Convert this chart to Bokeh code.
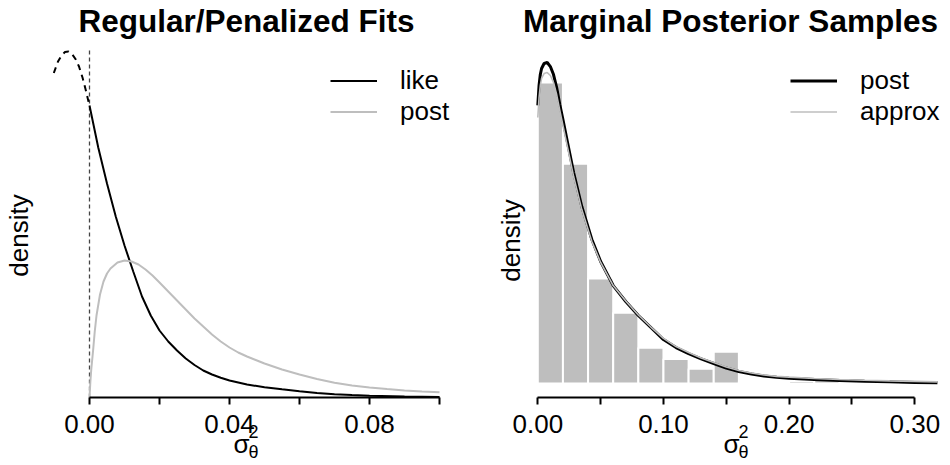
import math
from bokeh.plotting import figure
from bokeh.layouts import row
from bokeh.models import Range1d, FixedTicker, Label, Legend, LegendItem
from bokeh.embed import file_html
from bokeh.resources import INLINE

# ---------------- left panel: regular / penalized fits ----------------
# likelihood continued below zero (drawn dashed)
like_neg_x = [-0.0102, -0.009, -0.008, -0.007, -0.006, -0.005, -0.004, -0.003, -0.002, -0.001, 0.0]
like_neg_y = [64.9, 67.2, 68.4, 69.1, 69.2, 68.7, 67.7, 66.2, 64.0, 61.3, 58.3]
# likelihood on the admissible range
like_x = [0.0, 0.0025, 0.005, 0.0075, 0.010, 0.0125, 0.015, 0.0175, 0.020, 0.0225, 0.025,
          0.0275, 0.030, 0.0325, 0.035, 0.0375, 0.040, 0.045, 0.050, 0.055, 0.060, 0.065,
          0.070, 0.075, 0.080, 0.090, 0.100]
like_y = [58.4, 50.0, 42.8, 36.2, 30.4, 25.2, 20.2, 16.4, 13.4, 11.2, 9.4,
          7.8, 6.5, 5.4, 4.6, 3.96, 3.4, 2.6, 2.06, 1.64, 1.26, 0.92,
          0.66, 0.48, 0.34, 0.18, 0.10]
# penalized posterior
post_x = [0.0, 0.00025, 0.0005, 0.001, 0.0015, 0.002, 0.003, 0.004, 0.005, 0.006, 0.008, 0.010,
          0.012, 0.014, 0.016, 0.018, 0.020, 0.0225, 0.025, 0.0275, 0.030, 0.0325, 0.035,
          0.0375, 0.040, 0.0425, 0.045, 0.0475, 0.050, 0.055, 0.060, 0.065, 0.070, 0.075,
          0.080, 0.085, 0.090, 0.095, 0.100]
post_y = [0.0, 3.2, 5.6, 9.2, 13.2, 16.4, 20.6, 23.2, 24.8, 25.8, 27.0, 27.4,
          27.2, 26.6, 25.6, 24.4, 23.0, 21.2, 19.4, 17.6, 15.8, 14.2, 12.6,
          11.2, 10.0, 9.0, 8.2, 7.5, 6.8, 5.6, 4.6, 3.7, 2.96, 2.4,
          2.0, 1.68, 1.42, 1.22, 1.06]
left_ticks = [0.0, 0.02, 0.04, 0.06, 0.08, 0.10]
left_tick_labels = ["0.00", "", "0.04", "", "0.08", ""]
left_ymax = 69.4          # top of the plotting region (density units)

# ---------------- right panel: marginal posterior samples ----------------
hist_edges = [0.00, 0.02, 0.04, 0.06, 0.08, 0.10, 0.12, 0.14, 0.16, 0.18, 0.20, 0.22, 0.24]
hist_counts = [370, 270, 129, 87, 44, 30, 18, 39, 2, 2, 3, 6]
mpost_x = [0.0, 0.001, 0.002, 0.003, 0.005, 0.0075, 0.010, 0.0125, 0.015, 0.0175, 0.020, 0.0235,
           0.0285, 0.035, 0.043, 0.050, 0.060, 0.070, 0.080, 0.090, 0.100, 0.110, 0.120, 0.130,
           0.140, 0.150, 0.160, 0.170, 0.180, 0.190, 0.200, 0.220, 0.240, 0.260, 0.280, 0.300, 0.318]
mpost_y = [17.09, 18.32, 18.99, 19.36, 19.67, 19.73, 19.48, 18.99, 18.19, 17.15, 16.23, 14.87,
           12.97, 10.88, 8.85, 7.50, 6.02, 5.04, 4.18, 3.44, 2.70, 2.21, 1.84, 1.51,
           1.23, 0.95, 0.74, 0.58, 0.46, 0.38, 0.33, 0.25, 0.18, 0.135, 0.10, 0.068, 0.043]
approx_y = [16.35, 17.58, 18.32, 18.75, 19.05, 19.11, 18.93, 18.50, 17.76, 16.78, 15.86, 14.57,
            12.72, 10.69, 8.73, 7.44, 6.02, 5.07, 4.21, 3.47, 2.77, 2.27, 1.91, 1.57,
            1.29, 1.01, 0.80, 0.65, 0.52, 0.44, 0.39, 0.31, 0.25, 0.20, 0.16, 0.13, 0.10]
right_ticks = [0.0, 0.05, 0.10, 0.15, 0.20, 0.25, 0.30]
right_tick_labels = ["0.00", "", "0.10", "", "0.20", "", "0.30"]

GRAY = "#BEBEBE"
FONT = "Liberation Sans"
W, H = 475, 465


def make_fig(xr, yr, axis_y):
    """Borderless figure; the x axis is pinned at y=axis_y inside the frame."""
    p = figure(width=W, height=H, x_range=xr, y_range=yr, output_backend="svg",
               toolbar_location=None, y_axis_location=None,
               min_border=0, min_border_left=0, min_border_right=0,
               min_border_top=0, min_border_bottom=0)
    p.title.visible = False
    p.outline_line_color = None
    p.xgrid.visible = False
    p.ygrid.visible = False
    p.background_fill_color = "white"
    p.border_fill_color = "white"
    ax = p.xaxis[0]
    ax.fixed_location = axis_y
    ax.axis_line_width = 2
    ax.major_tick_line_width = 2
    ax.major_tick_out = 7
    ax.major_tick_in = 0
    ax.minor_tick_line_color = None
    ax.major_label_text_font = FONT
    ax.major_label_text_font_size = "26px"
    ax.major_label_text_color = "black"
    ax.major_label_standoff = 10
    return p


def at(p, sx, sy):
    """Figure pixel position -> data coordinates of that figure."""
    xr, yr = p.x_range, p.y_range
    x = xr.start + sx / W * (xr.end - xr.start)
    y = yr.end - sy / H * (yr.end - yr.start)
    return x, y


def text(p, sx, sy, s, size, align="left", baseline="alphabetic", bold=False, angle=0.0):
    x, y = at(p, sx, sy)
    p.add_layout(Label(x=x, y=y, text=s, text_font=FONT, text_font_size=size,
                       text_align=align, text_baseline=baseline, angle=angle,
                       text_font_style="bold" if bold else "normal", text_color="black"))


def sigma_label(p, sx):
    text(p, sx, 443, "σ", "26px")
    text(p, sx + 15, 431, "2", "18px")
    text(p, sx + 15, 451, "θ", "18px")


def legend(p, items, sx):
    lg = Legend(items=items, location=(sx, 338), orientation="vertical",
                border_line_color=None, background_fill_alpha=0, padding=0, margin=0,
                spacing=0, glyph_width=47, glyph_height=31, label_height=31,
                label_standoff=23, label_text_font=FONT, label_text_font_size="26px",
                label_text_color="black")
    p.add_layout(lg)


# ---- left figure: 0 at x=89px, 3500 px per unit; y=0 at 397px, 5 px per unit ----
p1 = make_fig(Range1d(-89 / 3500, 386 / 3500), Range1d(-68 / 5, 397 / 5), 0)
p1.xaxis[0].bounds = (0, 0.1)
p1.xaxis[0].ticker = FixedTicker(ticks=left_ticks)
p1.xaxis[0].major_label_overrides = dict(zip(left_ticks, left_tick_labels))

p1.segment(x0=[0], y0=[0], x1=[0], y1=[left_ymax], line_color="#444444",
           line_width=1.3, line_dash="4 3")
p1.line(like_neg_x, like_neg_y, line_color="black", line_width=2, line_dash="6 5")
r_like = p1.line(like_x, like_y, line_color="black", line_width=2)
r_post = p1.line(post_x, post_y, line_color=GRAY, line_width=2)
legend(p1, [LegendItem(label="like", renderers=[r_like]),
            LegendItem(label="post", renderers=[r_post])], 330)

text(p1, 246, 20, "Regular/Penalized Fits", "31.5px", align="center", bold=True)
text(p1, 18, 235, "density", "26px", align="center", angle=math.pi / 2)
sigma_label(p1, 233)

# ---- right figure: 0 at x=62.3px, 1256.7 px per unit; y=0 at 383px, 16.27 px per unit ----
p2 = make_fig(Range1d(-62.3 / 1256.7, 412.7 / 1256.7), Range1d(-82 / 16.27, 383 / 16.27),
              -14 / 16.27)
p2.xaxis[0].bounds = (0, 0.3)
p2.xaxis[0].ticker = FixedTicker(ticks=right_ticks)
p2.xaxis[0].major_label_overrides = dict(zip(right_ticks, right_tick_labels))

n_samp = sum(hist_counts)
dens = [c / (n_samp * (hist_edges[i + 1] - hist_edges[i])) for i, c in enumerate(hist_counts)]
p2.quad(left=hist_edges[:-1], right=hist_edges[1:], bottom=0, top=dens,
        fill_color=GRAY, line_color="white", line_width=2)
r_mpost = p2.line(mpost_x, mpost_y, line_color="black", line_width=3)
r_approx = p2.line(mpost_x, approx_y, line_color=GRAY, line_width=1.6)
legend(p2, [LegendItem(label="post", renderers=[r_mpost]),
            LegendItem(label="approx", renderers=[r_approx])], 315)

text(p2, 255, 20, "Marginal Posterior Samples", "31.5px", align="center", bold=True)
text(p2, 35, 240, "density", "26px", align="center", angle=math.pi / 2)
sigma_label(p2, 248)

layout = row(p1, p2, spacing=0)
open("out.html", "w").write(file_html(layout, INLINE))
